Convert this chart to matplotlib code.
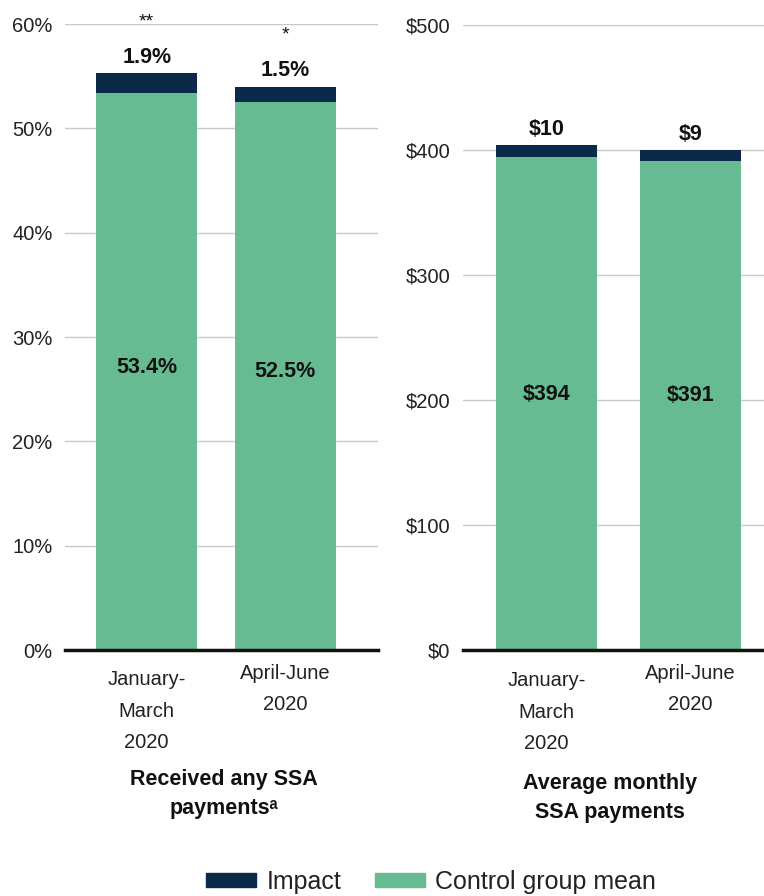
import matplotlib
matplotlib.use("Agg")
import matplotlib.pyplot as plt
from matplotlib.patches import Patch
from matplotlib.transforms import blended_transform_factory

plt.rcParams['font.family'] = ['Liberation Sans', 'DejaVu Sans']

categories = ["January-\nMarch\n2020", "April-June\n2020"]
pct_control = [53.4, 52.5]
pct_impact = [1.9, 1.5]
pct_stars = ["**", "*"]
usd_control = [394, 391]
usd_impact = [10, 9]
pct_ticks = [0, 10, 20, 30, 40, 50, 60]
usd_ticks = [0, 100, 200, 300, 400, 500]

GREEN = "#66BB92"
NAVY = "#0B2A4A"
W, H = 764, 896
fig = plt.figure(figsize=(W/100, H/100), dpi=100)

def ax_rect(l, r, t, b):
    return [l/W, 1-b/H, (r-l)/W, (b-t)/H]

ax1 = fig.add_axes(ax_rect(65, 378, 24, 650))
ax2 = fig.add_axes(ax_rect(463, 764, 25, 650))

def style(ax, ticks, fmt, xlim, cat_y):
    ax.set_ylim(ticks[0], ticks[-1])
    ax.set_yticks(ticks)
    ax.set_yticklabels([fmt(t) for t in ticks], fontsize=14.5, color='#222222')
    ax.set_xlim(*xlim)
    ax.set_xticks([])
    ax.tick_params(axis='y', length=0, pad=9)
    for s in ['top', 'right', 'left']:
        ax.spines[s].set_visible(False)
    ax.spines['bottom'].set_linewidth(2.5)
    ax.spines['bottom'].set_color('#111111')
    ax.yaxis.grid(True, color='#C8C8C8', linewidth=1)
    ax.set_axisbelow(True)
    tr = blended_transform_factory(ax.transData, fig.transFigure)
    for i, lab in enumerate(categories):
        ax.text(i, 1 - cat_y[i]/H, lab, transform=tr, ha='center', va='center',
                fontsize=14.5, linespacing=1.85, color='#222222')

x = [0, 1]
# left panel
ax1.bar(x, pct_control, width=0.73, color=GREEN, zorder=2)
ax1.bar(x, pct_impact, width=0.73, bottom=pct_control, color=NAVY, zorder=2)
style(ax1, pct_ticks, lambda t: f"{t}%", (-0.59, 1.67), [711, 689])
for i in x:
    ax1.annotate(f"{pct_control[i]}%", (i, pct_control[i]/2), xytext=(0, 3), textcoords='offset points',
                 ha='center', va='center', fontsize=15.5, fontweight='bold', color='#111111')
    top = pct_control[i] + pct_impact[i]
    ax1.annotate(f"{pct_impact[i]}%", (i, top), xytext=(0, 11.5), textcoords='offset points',
                 ha='center', va='center', fontsize=15.5, fontweight='bold', color='#111111')
    ax1.annotate(pct_stars[i], (i, top), xytext=(0, 37), textcoords='offset points',
                 ha='center', va='center', fontsize=14, color='#111111')
fig.text(224/W, 1 - 794/H, "Received any SSA\npaymentsᵃ",
         ha='center', va='center', fontsize=15.5, fontweight='bold', linespacing=1.55, color='#111111')

# right panel
ax2.bar(x, usd_control, width=0.70, color=GREEN, zorder=2)
ax2.bar(x, usd_impact, width=0.70, bottom=usd_control, color=NAVY, zorder=2)
style(ax2, usd_ticks, lambda t: f"${t}", (-0.58, 1.51), [712, 689])
for i in x:
    ax2.annotate(f"${usd_control[i]}", (i, usd_control[i]/2), xytext=(0, 7), textcoords='offset points',
                 ha='center', va='center', fontsize=15.5, fontweight='bold', color='#111111')
    top = usd_control[i] + usd_impact[i]
    ax2.annotate(f"${usd_impact[i]}", (i, top), xytext=(0, 11.5), textcoords='offset points',
                 ha='center', va='center', fontsize=15.5, fontweight='bold', color='#111111')
fig.text(610/W, 1 - 798/H, "Average monthly\nSSA payments",
         ha='center', va='center', fontsize=15.5, fontweight='bold', linespacing=1.55, color='#111111')

handles = [Patch(color=NAVY, label="Impact"), Patch(color=GREEN, label="Control group mean")]
fig.legend(handles=handles, loc='center', bbox_to_anchor=(431/W, 1-882/H), ncol=2,
           frameon=False, fontsize=18, handlelength=2.0, handleheight=0.5,
           columnspacing=1.35, handletextpad=0.42, borderpad=0, labelcolor='#222222')

fig.savefig("out.png", dpi=100)
